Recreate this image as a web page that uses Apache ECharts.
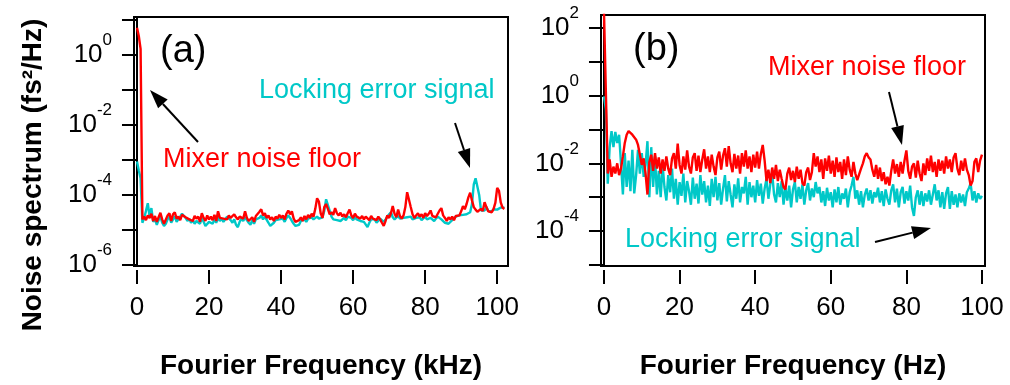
<!DOCTYPE html>
<html>
<head>
<meta charset="utf-8">
<script src="https://cdn.jsdelivr.net/npm/echarts@6/dist/echarts.min.js"></script>
<style>
html,body{margin:0;padding:0;background:#fff;}
#c{width:1010px;height:385px;}
</style>
</head>
<body>
<div id="c"></div>
<script>
// ---------- DATA ----------
// Panel (a): spectra sampled every 0.5 kHz from 0 to 102 kHz
const stepA = 0.5;
const mixerA = [
6,3.5,1.5,2.0e-5,2.4e-5,1.9e-5,2.6e-5,2.2e-5,2.9e-5,1.8e-5,
2.5e-5,1.7e-5,2.3e-5,3.1e-5,2.0e-5,1.5e-5,1.4e-5,2.6e-5,3.0e-5,1.8e-5,
2.8e-5,3.2e-5,2.1e-5,2.4e-5,1.9e-5,2.7e-5,3.0e-5,2.3e-5,2.6e-5,2.0e-5,
2.2e-5,1.8e-5,2.5e-5,2.1e-5,2.4e-5,1.7e-5,3.0e-5,2.2e-5,1.8e-5,2.6e-5,
2.0e-5,2.4e-5,1.9e-5,2.7e-5,1.8e-5,3.4e-5,2.2e-5,2.5e-5,2.1e-5,2.3e-5,
2.0e-5,2.6e-5,2.2e-5,2.0e-5,2.8e-5,2.3e-5,2.0e-5,2.4e-5,2.7e-5,2.1e-5,
3.4e-5,2.2e-5,1.8e-5,1.6e-5,2.3e-5,1.7e-5,2.5e-5,2.2e-5,3.3e-5,3.9e-5,
2.6e-5,3.0e-5,2.2e-5,2.6e-5,2.0e-5,2.3e-5,1.8e-5,2.4e-5,2.1e-5,2.7e-5,
2.2e-5,2.6e-5,2.0e-5,2.9e-5,3.6e-5,2.8e-5,3.4e-5,2.1e-5,1.7e-5,1.5e-5,
1.9e-5,2.3e-5,1.8e-5,2.5e-5,2.0e-5,2.7e-5,2.2e-5,2.9e-5,2.4e-5,4.0e-5,
8.0e-5,6.5e-5,3.0e-5,2.2e-5,4.5e-5,5.5e-5,4.0e-5,2.8e-5,3.2e-5,2.7e-5,
4.2e-5,3.0e-5,2.6e-5,3.1e-5,2.4e-5,2.8e-5,2.3e-5,3.0e-5,3.8e-5,2.6e-5,
2.2e-5,2.9e-5,2.4e-5,2.7e-5,2.1e-5,2.5e-5,2.0e-5,2.4e-5,2.2e-5,1.9e-5,
2.5e-5,2.1e-5,2.3e-5,1.9e-5,2.4e-5,2.0e-5,1.6e-5,1.3e-5,1.8e-5,2.6e-5,
2.2e-5,3.0e-5,4.8e-5,2.9e-5,2.3e-5,3.8e-5,2.5e-5,2.1e-5,2.6e-5,4.5e-5,
1.2e-4,1.1e-4,4.5e-5,2.8e-5,2.2e-5,2.6e-5,3.0e-5,2.4e-5,2.8e-5,2.2e-5,
3.0e-5,2.5e-5,2.9e-5,3.6e-5,2.5e-5,2.8e-5,2.3e-5,2.9e-5,3.6e-5,4.2e-5,
2.6e-5,2.2e-5,1.8e-5,2.3e-5,2.0e-5,2.4e-5,1.9e-5,2.5e-5,2.8e-5,2.6e-5,
3.4e-5,4.8e-5,3.9e-5,5.5e-5,8.5e-5,1.15e-4,7.0e-5,4.5e-5,3.8e-5,3.3e-5,
3.6e-5,4.0e-5,3.5e-5,6.2e-5,4.5e-5,3.4e-5,3.6e-5,3.2e-5,4.0e-5,6.0e-5,
1.6e-4,1.3e-4,6.0e-5,4.3e-5,4.0e-5
];
const lockingA = [
9e-4,5e-4,3e-4,1.6e-5,2.2e-5,3.5e-5,5.8e-5,2.4e-5,4.2e-5,1.7e-5,
2.0e-5,1.4e-5,1.9e-5,2.4e-5,1.6e-5,1.3e-5,1.5e-5,2.0e-5,2.4e-5,1.6e-5,
2.0e-5,2.5e-5,1.7e-5,1.9e-5,2.4e-5,2.9e-5,3.0e-5,2.2e-5,1.8e-5,2.1e-5,
1.6e-5,1.9e-5,1.5e-5,1.8e-5,2.0e-5,1.5e-5,2.2e-5,1.7e-5,1.3e-5,1.2e-5,
1.7e-5,1.9e-5,1.5e-5,2.0e-5,1.6e-5,2.3e-5,1.8e-5,2.1e-5,1.7e-5,2.0e-5,
2.4e-5,2.7e-5,1.9e-5,1.6e-5,2.0e-5,1.4e-5,1.2e-5,1.7e-5,2.1e-5,1.8e-5,
2.3e-5,1.9e-5,1.6e-5,1.4e-5,1.9e-5,1.5e-5,2.0e-5,1.8e-5,2.2e-5,2.6e-5,
2.0e-5,2.4e-5,2.7e-5,1.6e-5,1.3e-5,1.2e-5,1.6e-5,1.9e-5,1.7e-5,2.0e-5,
1.8e-5,2.1e-5,1.7e-5,2.2e-5,2.6e-5,2.2e-5,1.8e-5,1.5e-5,1.3e-5,1.2e-5,
1.4e-5,1.8e-5,1.6e-5,2.0e-5,1.7e-5,2.1e-5,1.9e-5,2.3e-5,2.0e-5,2.2e-5,
2.4e-5,2.1e-5,2.0e-5,2.3e-5,3.5e-5,7.5e-5,8.0e-5,3.5e-5,2.4e-5,2.0e-5,
2.2e-5,1.9e-5,2.1e-5,1.8e-5,2.0e-5,2.2e-5,1.9e-5,2.4e-5,2.6e-5,2.2e-5,
1.9e-5,2.3e-5,2.0e-5,2.2e-5,1.8e-5,2.0e-5,1.7e-5,1.5e-5,1.2e-5,1.6e-5,
2.0e-5,1.8e-5,2.0e-5,1.6e-5,1.8e-5,2.1e-5,1.9e-5,1.7e-5,2.0e-5,2.2e-5,
2.8e-5,3.2e-5,2.3e-5,2.0e-5,2.2e-5,2.5e-5,2.1e-5,1.9e-5,2.2e-5,2.0e-5,
2.3e-5,2.1e-5,2.4e-5,2.0e-5,1.8e-5,2.2e-5,2.0e-5,2.3e-5,1.9e-5,2.1e-5,
2.4e-5,2.0e-5,1.8e-5,2.2e-5,2.0e-5,1.8e-5,2.1e-5,2.4e-5,2.2e-5,2.0e-5,
1.8e-5,1.6e-5,1.7e-5,1.5e-5,1.7e-5,1.9e-5,2.1e-5,2.4e-5,2.2e-5,2.6e-5,
2.4e-5,2.7e-5,2.5e-5,2.8e-5,2.9e-5,3.2e-5,5.5e-5,2.0e-4,3.0e-4,2.8e-4,
1.0e-4,3.6e-5,3.3e-5,3.6e-5,4.5e-5,3.5e-5,3.8e-5,3.4e-5,3.9e-5,4.2e-5,
3.8e-5,4.0e-5,4.4e-5,4.1e-5,4.3e-5
];
// Panel (b): spectra sampled every 0.5 Hz from 0 to 100 Hz
const stepB = 0.5;
const mixerB = [
300,300,5.0e-3,1.3e-2,4.0e-3,8.0e-3,5.0e-3,1.0e-2,4.5e-3,7.0e-3,
1.6e-2,4.0e-2,7.0e-2,9.0e-2,8.5e-2,7.0e-2,7.5e-2,5.0e-2,3.5e-2,1.8e-2,
9.0e-3,1.4e-2,5.0e-3,1.2e-3,1.1e-2,1.8e-2,6.0e-3,2.0e-2,7.0e-3,1.5e-2,
5.0e-3,1.3e-2,6.0e-3,1.6e-2,7.0e-3,4.5e-3,1.4e-2,2.0e-2,7.0e-3,3.8e-2,
9.0e-3,5.0e-3,1.6e-2,6.5e-3,2.4e-2,8.0e-3,5.0e-3,1.5e-2,2.0e-2,6.0e-3,
1.7e-2,5.5e-3,1.3e-2,2.6e-2,7.0e-3,1.6e-2,5.5e-3,1.8e-2,8.0e-3,4.5e-3,
1.5e-2,2.2e-2,6.5e-3,1.7e-2,2.8e-2,8.0e-3,3.2e-2,1.0e-2,5.5e-3,1.9e-2,
7.0e-3,1.7e-2,5.0e-3,2.0e-2,8.0e-3,2.4e-2,7.0e-3,1.6e-2,5.5e-3,1.8e-2,
7.5e-3,2.2e-2,7.0e-3,1.9e-2,3.5e-2,1.2e-2,3.0e-3,6.5e-3,2.6e-3,7.5e-3,
3.5e-3,9.0e-3,3.0e-3,6.5e-3,3.5e-3,2.0e-3,1.7e-3,5.0e-3,7.5e-3,3.2e-3,
6.0e-3,2.8e-3,8.0e-3,3.5e-3,6.5e-3,2.6e-3,2.2e-3,5.5e-3,7.5e-3,3.2e-3,
5.5e-3,2.0e-2,8.0e-3,1.6e-2,5.5e-3,1.3e-2,3.5e-3,1.4e-2,6.0e-3,1.7e-2,
5.0e-3,1.2e-2,4.0e-3,1.5e-2,5.5e-3,1.1e-2,3.5e-3,1.3e-2,4.5e-3,1.6e-2,
6.5e-3,4.0e-3,1.1e-2,5.0e-3,3.2e-3,2.8e-3,7.0e-3,1.0e-2,1.6e-2,2.0e-2,
1.5e-2,1.3e-2,6.5e-3,4.0e-3,9.0e-3,3.5e-3,7.5e-3,3.0e-3,5.5e-3,2.4e-3,
4.0e-3,2.2e-3,6.0e-3,1.3e-2,5.0e-3,9.5e-3,4.0e-3,1.1e-2,5.0e-3,1.2e-2,
2.4e-2,6.0e-3,3.5e-3,8.0e-3,1.0e-2,3.8e-3,1.2e-2,5.0e-3,3.0e-3,1.0e-2,
4.5e-3,1.4e-2,6.0e-3,1.7e-2,5.5e-3,1.1e-2,4.0e-3,1.3e-2,6.0e-3,1.2e-2,
5.0e-3,1.6e-2,7.0e-3,1.3e-2,5.5e-3,1.5e-2,2.0e-2,7.0e-3,4.5e-3,1.2e-2,
6.0e-3,1.4e-2,6.5e-3,4.5e-3,2.2e-3,3.0e-3,1.1e-2,1.4e-2,5.5e-3,1.2e-2,
1.8e-2
];
const lockingB = [
0.95,0.4,2.5e-3,3.0e-2,9.0e-2,3.0e-2,8.5e-2,4.0e-2,7.0e-2,1.0e-2,
1.2e-3,2.0e-2,2.0e-3,1.2e-2,1.5e-3,2.5e-2,1.3e-3,4.5e-3,2.5e-2,5.0e-3,
2.0e-2,4.0e-3,9.0e-3,4.5e-2,1.0e-3,3.0e-2,2.0e-3,1.6e-2,1.2e-3,6.0e-3,
1.0e-3,9.0e-3,2.0e-3,8.0e-4,4.5e-3,1.4e-3,7.0e-3,9.0e-4,3.5e-3,6.0e-4,
2.8e-3,1.1e-3,5.0e-3,7.0e-4,3.0e-3,1.5e-3,6.0e-4,3.8e-3,9.0e-4,2.5e-3,
6.5e-4,4.5e-3,1.2e-3,3.0e-3,7.0e-4,2.2e-3,5.5e-4,3.5e-3,1.0e-3,4.0e-3,
8.0e-4,2.6e-3,6.0e-4,1.8e-3,4.5e-3,7.5e-4,3.0e-3,1.2e-3,5.0e-4,2.4e-3,
9.0e-4,3.6e-3,7.0e-4,2.0e-3,1.3e-3,4.0e-3,6.0e-4,2.8e-3,1.0e-3,2.2e-3,
7.0e-4,3.2e-3,1.1e-3,2.5e-3,6.5e-4,1.8e-3,3.5e-3,9.0e-4,2.4e-3,5.0e-3,
1.2e-3,7.0e-4,2.6e-3,1.0e-3,3.0e-3,6.0e-4,1.9e-3,8.0e-4,2.2e-3,5.0e-4,
1.7e-3,2.8e-3,7.0e-4,2.0e-3,9.0e-4,2.4e-3,6.0e-4,1.6e-3,2.6e-3,8.0e-4,
1.8e-3,1.0e-3,2.8e-3,1.3e-3,2.0e-3,7.0e-4,1.5e-3,5.5e-4,1.9e-3,8.0e-4,
1.4e-3,5.0e-4,1.7e-3,7.0e-4,2.0e-3,6.0e-4,1.3e-3,9.0e-4,1.8e-3,5.0e-4,
1.4e-3,2.2e-3,4.0e-3,9.0e-4,1.6e-3,6.0e-4,1.5e-3,5.0e-4,1.2e-3,1.8e-3,
8.0e-4,1.6e-3,6.5e-4,1.4e-3,1.0e-3,1.9e-3,7.0e-4,1.5e-3,5.5e-4,1.7e-3,
9.0e-4,6.0e-4,1.6e-3,2.4e-3,7.0e-4,1.8e-3,5.0e-4,1.4e-3,2.0e-3,6.5e-4,
1.5e-3,8.0e-4,2.2e-3,5.0e-4,2.8e-4,1.0e-3,1.6e-3,6.0e-4,1.5e-3,5.5e-4,
1.3e-3,7.5e-4,1.6e-3,6.0e-4,1.2e-3,2.4e-3,8.0e-4,1.6e-3,5.0e-4,1.4e-3,
4.5e-4,1.3e-3,2.0e-3,4.5e-4,1.5e-3,6.0e-4,1.2e-3,5.0e-4,1.3e-3,7.0e-4,
1.2e-3,5.5e-4,1.4e-3,1.8e-3,2.6e-3,8.0e-4,1.5e-3,7.0e-4,1.3e-3,9.0e-4,
1.1e-3
];
const xTicks = [0, 20, 40, 60, 80, 100];
const yTicksA = [1e-6, 1e-5, 1e-4, 1e-3, 1e-2, 1e-1, 1, 10];
const yLabelsA = [1e-6, 1e-4, 1e-2, 1];
const yTicksB = [1e-5, 1e-4, 1e-3, 1e-2, 1e-1, 1, 10, 100];
const yLabelsB = [1e-4, 1e-2, 1, 100];

// ---------- CHART ----------
const RED = '#ff0000', CYAN = '#00c8c8', FONT = '"Liberation Sans", Arial, sans-serif';
const LW = 2.4;
const pairs = (vals, step) => vals.map((v, i) => [i * step, v]);

const expLabel = v => {
  const e = Math.round(Math.log10(v));
  return '{b|10}{s|' + e + '}';
};
const richY = {
  b: { fontSize: 26, fontFamily: FONT, color: '#000', lineHeight: 46, verticalAlign: 'middle' },
  s: { fontSize: 17, fontFamily: FONT, color: '#000', verticalAlign: 'top' }
};

function xAxisDef(grid, min, max, name) {
  return {
    gridIndex: grid, type: 'value', min: min, max: max, offset: 4,
    axisLine: { show: false },
    axisTick: { show: true, length: 14, customValues: xTicks, lineStyle: { color: '#000', width: 2 } },
    axisLabel: { customValues: xTicks, fontSize: 26, fontFamily: FONT, color: '#000', margin: 25 },
    splitLine: { show: false },
    name: name, nameLocation: 'middle', nameGap: 82,
    nameTextStyle: { fontSize: 28, fontWeight: 'bold', fontFamily: FONT, color: '#000' }
  };
}
function yAxisDef(grid, min, max, ticks, labels) {
  return {
    gridIndex: grid, type: 'log', logBase: 10, min: min, max: max,
    axisLine: { show: true, lineStyle: { color: '#000', width: 2 } },
    axisTick: { show: true, length: 15, customValues: ticks, lineStyle: { color: '#000', width: 2 } },
    axisLabel: { customValues: labels, formatter: expLabel, rich: richY, margin: 22 },
    splitLine: { show: false }, minorTick: { show: false }
  };
}

function arrow(x1, y1, x2, y2) {
  const L = 19, W = 6.5;
  const dx = x2 - x1, dy = y2 - y1, d = Math.hypot(dx, dy);
  const ux = dx / d, uy = dy / d;
  const bx = x2 - ux * L, by = y2 - uy * L;
  return [
    { type: 'line', shape: { x1: x1, y1: y1, x2: bx, y2: by }, style: { stroke: '#000', lineWidth: 2 }, z: 50 },
    { type: 'polygon', shape: { points: [[x2, y2], [bx - uy * W, by + ux * W], [bx + uy * W, by - ux * W]] }, style: { fill: '#000' }, z: 50 }
  ];
}
function label(text, x, y, size, color, weight) {
  return { type: 'text', x: x, y: y, z: 50,
    style: { text: text, fill: color, font: (weight || 'normal') + ' ' + size + 'px ' + FONT, align: 'left', verticalAlign: 'middle' } };
}

const chart = echarts.init(document.getElementById('c'), null, { renderer: 'canvas' });
chart.setOption({
  animation: false,
  backgroundColor: '#fff',
  grid: [
    { left: 134, top: 17, width: 374, height: 251, show: true, borderColor: '#000', borderWidth: 2, backgroundColor: 'transparent' },
    { left: 601, top: 15, width: 384, height: 253, show: true, borderColor: '#000', borderWidth: 2, backgroundColor: 'transparent' }
  ],
  xAxis: [
    xAxisDef(0, -0.83, 103, 'Fourier Frequency (kHz)'),
    xAxisDef(1, -0.79, 100.8, 'Fourier Frequency (Hz)')
  ],
  yAxis: [
    yAxisDef(0, 9.3e-7, 12.2, yTicksA, yLabelsA),
    yAxisDef(1, 9.3e-6, 240, yTicksB, yLabelsB)
  ],
  series: [
    { type: 'line', xAxisIndex: 0, yAxisIndex: 0, data: pairs(lockingA, stepA), showSymbol: false, lineStyle: { color: CYAN, width: LW }, itemStyle: { color: CYAN } },
    { type: 'line', xAxisIndex: 0, yAxisIndex: 0, data: pairs(mixerA, stepA), showSymbol: false, lineStyle: { color: RED, width: LW }, itemStyle: { color: RED } },
    { type: 'line', xAxisIndex: 1, yAxisIndex: 1, data: pairs(lockingB, stepB), showSymbol: false, lineStyle: { color: CYAN, width: LW }, itemStyle: { color: CYAN } },
    { type: 'line', xAxisIndex: 1, yAxisIndex: 1, data: pairs(mixerB, stepB), showSymbol: false, lineStyle: { color: RED, width: LW }, itemStyle: { color: RED } }
  ],
  graphic: [
    { type: 'text', x: 33, y: 175, rotation: Math.PI / 2, z: 50,
      style: { text: 'Noise spectrum (fs\u00b2/Hz)', fill: '#000', font: 'bold 28px ' + FONT, align: 'center', verticalAlign: 'middle' } },
    label('(a)', 160, 52, 38, '#000'),
    label('Mixer noise floor', 163, 160, 27, RED),
    label('Locking error signal', 259, 91, 27, CYAN),
    label('(b)', 633, 50, 38, '#000'),
    label('Mixer noise floor', 768, 68, 27, RED),
    label('Locking error signal', 625, 240, 27, CYAN)
  ].concat(arrow(198, 142, 150, 90), arrow(455, 123, 470, 168), arrow(889, 92, 902, 145), arrow(875, 242, 931, 228))
});
</script>
</body>
</html>
